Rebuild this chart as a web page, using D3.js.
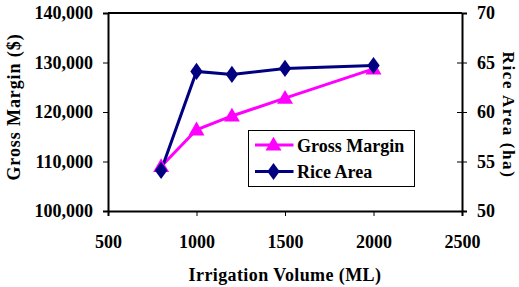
<!DOCTYPE html>
<html>
<head>
<meta charset="utf-8">
<script src="https://cdn.jsdelivr.net/npm/d3@7"></script>
<style>
  body { margin: 0; background: #fff; }
  svg { display: block; font-family: "Liberation Serif", "Times New Roman", serif; font-weight: bold; }
</style>
</head>
<body>
<div id="chart"></div>
<script>
// data
const volumes = [800, 1000, 1200, 1500, 2000];
const grossMargin = [109000, 116400, 119200, 122800, 128700];
const riceArea = [54.1, 64.1, 63.8, 64.4, 64.7];
const xTicks = [500, 1000, 1500, 2000, 2500];
const leftTicks = [100000, 110000, 120000, 130000, 140000];
const rightTicks = [50, 55, 60, 65, 70];

const width = 519, height = 287;
const margin = { top: 13, right: 57, bottom: 76, left: 108 };
const fontSize = 18;

const svg = d3.select("#chart").append("svg")
  .attr("width", width).attr("height", height);

const x = d3.scaleLinear().domain([500, 2500]).range([margin.left, width - margin.right]);
const yL = d3.scaleLinear().domain([100000, 140000]).range([height - margin.bottom, margin.top]);
const yR = d3.scaleLinear().domain([50, 70]).range([height - margin.bottom, margin.top]);

const fmt = d3.format(",");

// x axis
const xAxis = svg.append("g")
  .attr("transform", `translate(0,${height - margin.bottom})`)
  .call(d3.axisBottom(x).tickValues(xTicks).tickSize(5).tickPadding(19).tickFormat(d3.format("d")));

// left axis
const lAxis = svg.append("g")
  .attr("transform", `translate(${margin.left},0)`)
  .call(d3.axisLeft(yL).tickValues(leftTicks).tickSize(5).tickPadding(10).tickFormat(fmt));

// right axis (ticks cross the line)
const rAxis = svg.append("g")
  .attr("transform", `translate(${width - margin.right},0)`)
  .call(d3.axisRight(yR).tickValues(rightTicks).tickSize(5).tickPadding(10));
rAxis.selectAll(".tick line").attr("x1", -5);

[xAxis, lAxis, rAxis].forEach(g => {
  g.select(".domain").attr("stroke", "#000").attr("stroke-width", 2);
  g.selectAll(".tick line").attr("stroke", "#000").attr("stroke-width", 1);
  g.selectAll("text").attr("font-size", fontSize).attr("font-weight", "bold")
    .attr("font-family", "'Liberation Serif', serif").attr("fill", "#000");
});

// top border
svg.append("line")
  .attr("x1", margin.left).attr("x2", width - margin.right)
  .attr("y1", margin.top).attr("y2", margin.top)
  .attr("stroke", "#000").attr("stroke-width", 2);

// axis titles
svg.append("text")
  .attr("x", x(1500)).attr("y", 281)
  .attr("text-anchor", "middle").attr("font-size", fontSize)
  .attr("letter-spacing", 0.4)
  .text("Irrigation Volume (ML)");

svg.append("text")
  .attr("transform", "translate(20,107) rotate(-90)")
  .attr("text-anchor", "middle").attr("font-size", fontSize)
  .attr("letter-spacing", 0.9)
  .text("Gross Margin ($)");

// right title kept just inside the right edge
svg.append("text")
  .attr("transform", "translate(503,115) rotate(90)")
  .attr("text-anchor", "middle").attr("font-size", 17)
  .attr("letter-spacing", 1.6)
  .text("Rice Area (ha)");

// lines
const pink = "#ff00ff", navy = "#000080";
const triangle = d3.symbol().type(d3.symbolTriangle).size(110);
const diamond = d3.symbol().type(d3.symbolDiamond).size(85);

svg.append("path")
  .datum(volumes.map((v, i) => [v, grossMargin[i]]))
  .attr("fill", "none").attr("stroke", pink).attr("stroke-width", 3)
  .attr("d", d3.line().x(d => x(d[0])).y(d => yL(d[1])));

svg.append("path")
  .datum(volumes.map((v, i) => [v, riceArea[i]]))
  .attr("fill", "none").attr("stroke", navy).attr("stroke-width", 3)
  .attr("d", d3.line().x(d => x(d[0])).y(d => yR(d[1])));

svg.selectAll(".tri").data(volumes).join("path")
  .attr("transform", (d, i) => `translate(${x(d)},${yL(grossMargin[i]) + 1})`)
  .attr("d", triangle).attr("fill", pink);

svg.selectAll(".dia").data(volumes).join("path")
  .attr("transform", (d, i) => `translate(${x(d)},${yR(riceArea[i])}) scale(1.25,1)`)
  .attr("d", diamond).attr("fill", navy);

// legend
const legend = svg.append("g").attr("transform", "translate(248.5,130.5)");
legend.append("rect")
  .attr("width", 166).attr("height", 56)
  .attr("fill", "#fff").attr("stroke", "#000").attr("stroke-width", 1);

const items = [
  { label: "Gross Margin", color: pink, sym: triangle, sx: 1 },
  { label: "Rice Area", color: navy, sym: diamond, sx: 1.25 }
];
items.forEach((item, i) => {
  const g = legend.append("g").attr("transform", `translate(0,${14.5 + i * 26.5})`);
  g.append("line").attr("x1", 6.5).attr("x2", 45)
    .attr("stroke", item.color).attr("stroke-width", 3);
  g.append("path").attr("d", item.sym)
    .attr("transform", `translate(25,${i === 0 ? 1 : 0}) scale(${item.sx},1)`)
    .attr("fill", item.color);
  g.append("text").attr("x", 48.5).attr("y", 6.5)
    .attr("font-size", fontSize).text(item.label);
});
</script>
</body>
</html>
